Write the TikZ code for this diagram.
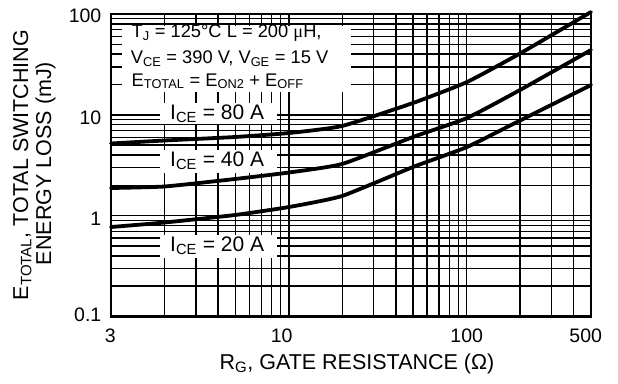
\documentclass[tikz,border=0pt]{standalone}
\usepackage{fontspec}
\setmainfont{Liberation Sans}
\newfontfamily\serifgreek{Liberation Serif}
\newcommand\lowidx[1]{\textsubscript{#1}}
\begin{document}
\begin{tikzpicture}[x=1pt,y=-1pt,
  gridline/.style={line width=1.5pt},
  curve/.style={line width=3.8pt, line cap=round, line join=round},
  frameline/.style={line width=2.8pt},
  legendtext/.style={inner sep=0pt, anchor=base west, font=\fontsize{18.3}{20}\selectfont},
  icetext/.style={inner sep=0pt, anchor=base west, font=\fontsize{21}{22}\selectfont},
  ticklabel/.style={inner sep=0pt, font=\fontsize{19.5}{21}\selectfont},
  axistitle/.style={inner sep=0pt, font=\fontsize{21.5}{23}\selectfont},
  whitebox/.style={fill=white, draw=none}]
\useasboundingbox (0,0) rectangle (618,383);
\fill[white] (0,0) rectangle (618,383);
% vertical grid lines
\foreach \v in {2,3,4,5,6,7,8,9,10,20,30,40,50,60,70,80,90,100,200,300,400}{
  \pgfmathsetmacro\xx{111+177.8*log10(\v)}
  \draw[gridline] (\xx,14) -- (\xx,316.5);
}
% horizontal grid lines
\foreach \v in {0.2,0.3,0.4,0.5,0.6,0.7,0.8,0.9,1,2,3,4,5,6,7,8,9,10,20,30,40,50,60,70,80,90}{
  \pgfmathsetmacro\yy{316.5-100.8*(log10(\v)+1)}
  \draw[gridline] (111,\yy) -- (591,\yy);
}
% legend box
\fill[whitebox] (122,25.5) rectangle (351,91.5);
\node[legendtext] (l1) at (131.5,37.3) {T\lowidx{J} = 125°C L = 200 {\serifgreek μ}H,};
\node[legendtext] (l2) at (130.7,63.3) {V\lowidx{CE} = 390 V, V\lowidx{GE} = 15 V};
\node[legendtext] (l3) at (131.5,86) {E\lowidx{TOTAL} = E\lowidx{ON2} + E\lowidx{OFF}};
% current labels
\fill[whitebox] (160,102.7) rectangle (277,123.5);
\node[icetext] (i80) at (170,119.3) {I\lowidx{CE} = 80 A};
\fill[whitebox] (160,150) rectangle (277,173.3);
\node[icetext] (i40) at (170,166.7) {I\lowidx{CE} = 40 A};
\fill[whitebox] (160,235) rectangle (277,258.3);
\node[icetext] (i20) at (170,251.7) {I\lowidx{CE} = 20 A};
% curves
\draw[curve] plot[smooth, tension=0.3] coordinates {(111,143.5) (164.5,140.5) (235,137) (289,133) (342,126) (413,103) (467,82) (520,53.5) (591,12)};
\draw[curve] plot[smooth, tension=0.3] coordinates {(111,188) (164.5,186.5) (235,179) (289,172.5) (342,164) (413,137) (467,118) (520,90) (591,50)};
\draw[curve] plot[smooth, tension=0.3] coordinates {(111,227) (164.5,222.5) (235,215) (289,207) (342,196) (413,167) (467,147) (520,120.5) (591,85)};
% frame
\draw[frameline] (111,14) rectangle (591,316.5);
% y tick labels
\node[ticklabel, anchor=east] (y100) at (101.5,15.3) {100};
\node[ticklabel, anchor=east] (y10) at (101.5,118) {10};
\node[ticklabel, anchor=east] (y1) at (101.5,218.7) {1};
\node[ticklabel, anchor=east] (y01) at (101.5,315) {0.1};
% x tick labels
\node[ticklabel] (x3) at (110.3,336) {3};
\node[ticklabel] (x10) at (281.7,336) {10};
\node[ticklabel] (x100) at (466.7,336) {100};
\node[ticklabel] (x500) at (585.7,336) {500};
% axis titles
\node[axistitle] (xt) at (357,364) {R\lowidx{G}, GATE RESISTANCE (Ω)};
\node[axistitle, rotate=90, anchor=base] (yt1) at (28,165) {E\lowidx{TOTAL}, TOTAL SWITCHING};
\node[axistitle, rotate=90, anchor=base] (yt2) at (51,163.5) {ENERGY LOSS (mJ)};
\end{tikzpicture}
\end{document}
